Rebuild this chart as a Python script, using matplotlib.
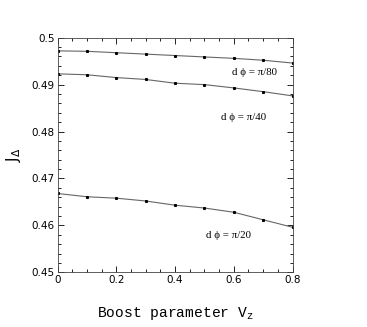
import numpy as np
import matplotlib.pyplot as plt
from matplotlib.ticker import MultipleLocator

# --- Data ---
vz = [0.0, 0.1, 0.2, 0.3, 0.4, 0.5, 0.6, 0.7, 0.8]
j_pi80 = [0.4972, 0.4971, 0.4968, 0.4965, 0.4962, 0.4959, 0.4956, 0.4952, 0.4946]
j_pi40 = [0.4923, 0.4921, 0.4915, 0.4911, 0.4903, 0.4900, 0.4893, 0.4885, 0.4876]
j_pi20 = [0.4668, 0.4661, 0.4658, 0.4652, 0.4643, 0.4637, 0.4628, 0.4612, 0.4596]
labels = ["d \u03d5 = \u03c0/80", "d \u03d5 = \u03c0/40", "d \u03d5 = \u03c0/20"]
label_pos = [(0.672, 0.4925), (0.632, 0.4830), (0.581, 0.4578)]

fig = plt.figure(figsize=(3.67, 3.27), dpi=100)
ax = fig.add_axes([57.5 / 367, 1 - 272.3 / 327, 235 / 367, 234.6 / 327])

for ys in (j_pi80, j_pi40, j_pi20):
    ax.plot(vz, ys, '-', color='#666666', linewidth=0.8,
            marker='s', markersize=1.2, markerfacecolor='black',
            markeredgecolor='black')

for txt, (x, y) in zip(labels, label_pos):
    ax.text(x, y, txt, ha='center', va='center', fontsize=7.8,
            family=['Liberation Serif', 'DejaVu Serif'])

ax.set_xlim(0, 0.8)
ax.set_ylim(0.45, 0.5)
ax.xaxis.set_minor_locator(MultipleLocator(0.05))
ax.yaxis.set_minor_locator(MultipleLocator(0.002))
ax.set_xticks([0, 0.2, 0.4, 0.6, 0.8])
ax.set_xticklabels(['0', '0.2', '0.4', '0.6', '0.8'])
ax.set_yticks([0.45, 0.46, 0.47, 0.48, 0.49, 0.5])
ax.set_yticklabels(['0.45', '0.46', '0.47', '0.48', '0.49', '0.5'])
ax.tick_params(which='both', direction='in', top=True, right=True,
               labelsize=7.5, width=0.6, pad=2)
ax.tick_params(which='major', length=4)
ax.tick_params(which='minor', length=2)
for s in ax.spines.values():
    s.set_linewidth(0.6)
    s.set_color('#444444')

ax.set_xlabel(r"Boost parameter V$_{\mathregular{z}}$", fontsize=10.5,
              family='Liberation Mono', labelpad=14)
ax.set_ylabel(r"J$_\Delta$", fontsize=11, labelpad=6)

fig.savefig("out.png", dpi=100)
